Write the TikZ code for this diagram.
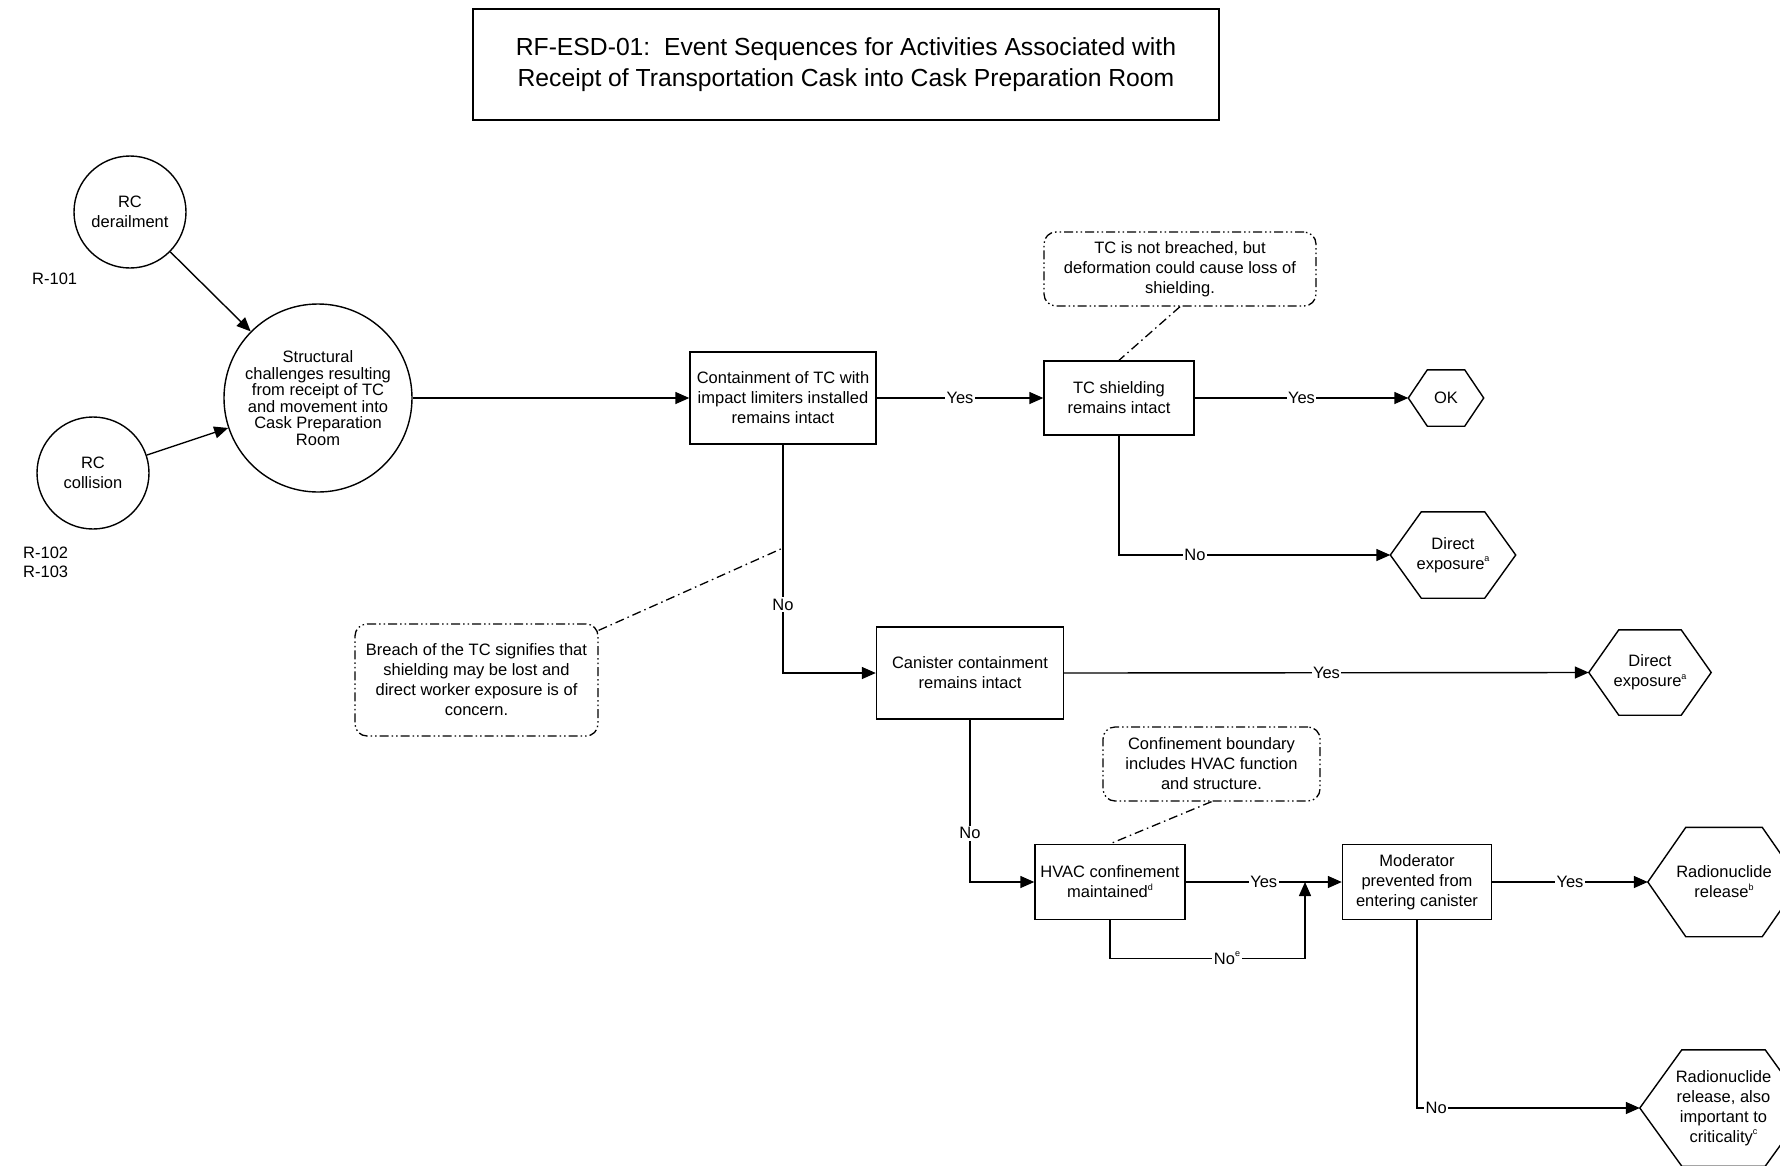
\documentclass[tikz,border=0pt]{standalone}
\usepackage{fontspec}
\setmainfont{Liberation Sans}
\usetikzlibrary{arrows.meta}

% small raised footnote letter
\newcommand\supx[1]{\raisebox{0.45em}{\fontsize{9}{9}\selectfont #1}}
% hexagonal end-state outline around a (borderless) rectangular node
\newcommand\hexoutline[2]{%
  \draw[hexline] (#1.west) -- ([xshift=#2pt]#1.north west) -- ([xshift=-#2pt]#1.north east)
    -- (#1.east) -- ([xshift=-#2pt]#1.south east) -- ([xshift=#2pt]#1.south west) -- cycle;}

\tikzset{
  conn/.style={line width=1.4pt},
  tip/.style={-{Triangle[length=14pt,width=12pt]}},
  box/.style={draw, line width=1.4pt},
  ev/.style={draw, circle, line width=1.4pt},
  hexline/.style={line width=1.4pt},
  note/.style={draw, line width=1.3pt, rounded corners=12pt,
    dash pattern=on 9pt off 3pt on 1.5pt off 3pt on 1.5pt off 3pt},
  lead/.style={line width=1.3pt, dash pattern=on 9pt off 4pt on 1.5pt off 4pt},
  lab/.style={fill=white, inner sep=1.5pt},
  ttl/.style={draw, line width=1.4pt, font=\fontsize{24.7}{30.7}\selectfont},
}

\begin{document}
\begin{tikzpicture}[x=1pt,y=-1pt,
  every node/.style={font=\fontsize{16.5}{20}\selectfont, align=center, inner sep=0pt}]
\path[use as bounding box] (0,0) rectangle (1780,1165);
\clip (0,0) rectangle (1780,1165);
\fill[white] (0,0) rectangle (1780,1165);

% title
\node[ttl, minimum width=746pt, minimum height=111pt] (title) at (846,64.5)
  {RF-ESD-01:\ \ Event Sequences for Activities Associated with\\Receipt of Transportation Cask into Cask Preparation Room};

% initiating events
\node[ev, minimum size=112pt] (derail) at (130,212) {RC\\derailment};
\node[anchor=west] (r101) at (32,279) {R-101};
\node[ev, minimum size=112pt] (coll) at (93,473) {RC\\collision};
\node[anchor=west, align=left, font=\fontsize{16.5}{19}\selectfont] (r102) at (23,562.5) {R-102\\R-103};
\node[ev, minimum size=188pt, font=\fontsize{16.5}{16.5}\selectfont] (struct) at (318,398)
  {Structural\\challenges resulting\\from receipt of TC\\and movement into\\Cask Preparation\\Room};

% pivotal events
\node[box, minimum width=186pt, minimum height=92pt] (b1) at (783,398)
  {Containment of TC with\\impact limiters installed\\remains intact};
\node[box, minimum width=150pt, minimum height=74pt] (b2) at (1119,398)
  {TC shielding\\remains intact};
\node[box, minimum width=187pt, minimum height=92pt] (b3) at (970,673)
  {Canister containment\\remains intact};
\node[box, minimum width=150pt, minimum height=75pt] (b4) at (1110,882)
  {HVAC confinement\\maintained\supx{d}};
\node[box, minimum width=149pt, minimum height=75pt] (b5) at (1417,882)
  {Moderator\\prevented from\\entering canister};

% end states
\node[minimum width=75pt, minimum height=56pt] (ok) at (1446,398) {OK};
\hexoutline{ok}{19}
\node[minimum width=125pt, minimum height=86pt] (de1) at (1453,555) {Direct\\exposure\supx{a}};
\hexoutline{de1}{31}
\node[minimum width=122pt, minimum height=85pt] (de2) at (1650,672.5) {Direct\\exposure\supx{a}};
\hexoutline{de2}{30}
\node[minimum width=152pt, minimum height=109pt] (rr) at (1724,882) {Radionuclide\\release\supx{b}};
\hexoutline{rr}{38}
\node[minimum width=167pt, minimum height=116pt] (rc) at (1723.5,1108)
  {Radionuclide\\release, also\\important to\\criticality\supx{c}};
\hexoutline{rc}{42}

% comments
\node[note, minimum width=272pt, minimum height=74pt] (n1) at (1180,269)
  {TC is not breached, but\\deformation could cause loss of\\shielding.};
\node[note, minimum width=243pt, minimum height=112pt] (n2) at (476.5,680)
  {Breach of the TC signifies that\\shielding may be lost and\\direct worker exposure is of\\concern.};
\node[note, minimum width=217pt, minimum height=74pt] (n3) at (1211.5,764)
  {Confinement boundary\\includes HVAC function\\and structure.};

\coordinate (n2tip) at (783,548);
\coordinate (join) at (1305,882);

% leaders
\draw[lead] (n1.south) -- (b2.north);
\draw[lead] ([yshift=-7pt]n2.north east) -- (n2tip);
\draw[lead] (n3.south) -- (b4.north);

% connectors
\draw[conn,tip] (derail) -- (struct);
\draw[conn,tip] (coll) -- (struct);
\draw[conn,tip] (struct.east) -- (b1.west);
\draw[conn,tip] (b1.east) -- node[lab]{Yes} (b2.west);
\draw[conn,tip] (b2.east) -- node[lab]{Yes} (ok.west);
\draw[conn,tip] (b2.south) |- node[lab,pos=0.64]{No} (de1.west);
\draw[conn,tip] (b1.south) |- node[lab,pos=0.35]{No} (b3.west);
\draw[conn,tip] (b3.east) -- node[lab]{Yes} (de2.west);
\draw[conn,tip] (b3.south) |- node[lab,pos=0.35]{No} (b4.west);
\draw[conn,tip] (b4.east) -- node[lab]{Yes} (b5.west);
\draw[conn,tip] (b4.south) -- ++(0,38) -| node[lab,pos=0.3]{No\supx{e}} (join);
\draw[conn,tip] (b5.east) -- node[lab]{Yes} (rr.west);
\draw[conn,tip] (b5.south) |- node[lab,pos=0.543]{No} (rc.west);
\end{tikzpicture}
\end{document}
